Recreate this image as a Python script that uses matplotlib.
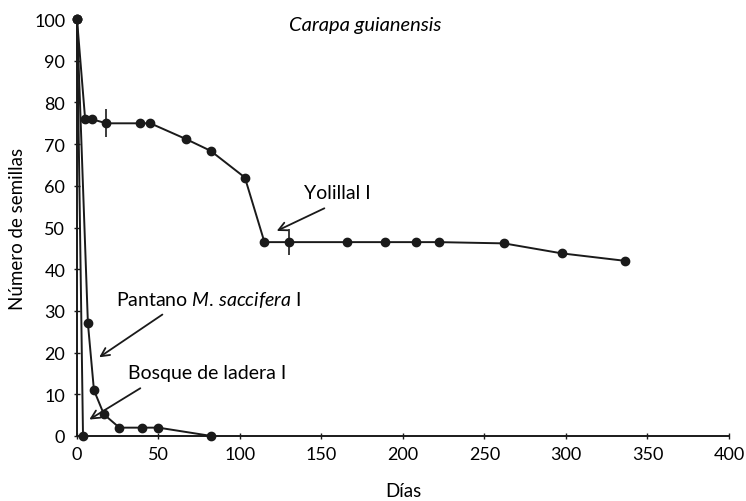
import matplotlib.pyplot as plt

# Carapa guianensis - seed survival per site
yol_dias = [0, 5, 9, 18, 38.5, 45, 67, 82, 103, 115, 130, 165.5, 189, 208, 222, 262, 297.5, 336.5]
yol_sem = [100, 76, 76, 75, 75, 75, 71.2, 68.4, 62, 46.5, 46.5, 46.5, 46.5, 46.5, 46.5, 46.2, 43.8, 42]
yol_err_dias = [18, 130]
yol_err_sem = [75, 46.5]
yol_err = [3.4, 3.2]

pan_dias = [0, 6.7, 10.4, 16.5, 26, 40, 50, 82.5]
pan_sem = [100, 27, 11, 5.2, 2, 2, 2, 0]

bos_dias = [0, 3.7]
bos_sem = [100, 0]

plt.rcParams['font.family'] = ['Lato', 'DejaVu Sans']
plt.rcParams['mathtext.fontset'] = 'custom'
plt.rcParams['mathtext.rm'] = 'Lato'
plt.rcParams['mathtext.it'] = 'Lato:italic'

fig = plt.figure(figsize=(7.46, 5.02), dpi=100)
ax = fig.add_axes([0.1032, 0.1295, 0.874, 0.8305])

ax.plot(yol_dias, yol_sem, color='#1a1a1a', lw=1.4, marker='o', ms=6, clip_on=False)
ax.errorbar(yol_err_dias, yol_err_sem, yerr=yol_err, fmt='none', ecolor='#1a1a1a', elinewidth=1.2, capsize=0)
ax.plot(pan_dias, pan_sem, color='#1a1a1a', lw=1.4, marker='o', ms=6, clip_on=False)
ax.plot(bos_dias, bos_sem, color='#1a1a1a', lw=1.4, marker='o', ms=6, clip_on=False)

arrow = dict(arrowstyle='->,head_length=0.6,head_width=0.3', color='#1a1a1a', lw=1.3)
ax.annotate('', xy=(121, 48.9), xytext=(153.3, 54.9), arrowprops=arrow)
ax.annotate('', xy=(12.2, 18.5), xytext=(53.8, 29.5), arrowprops=arrow)
ax.annotate('', xy=(6.1, 3.6), xytext=(40.3, 11.8), arrowprops=arrow)

fs = 14
ax.text(159.5, 58.5, 'Yolillal I', fontsize=fs, ha='center', va='center')
ax.text(23.8, 32.9, 'Pantano $\\it{M}$. $\\it{saccifera}$ I', fontsize=fs, ha='left', va='center')
ax.text(31.2, 15.3, 'Bosque de ladera I', fontsize=fs, ha='left', va='center')
ax.text(177, 98.8, 'Carapa guianensis', fontsize=14.5, style='italic', ha='center', va='center')

ax.set_xlim(0, 400)
ax.set_ylim(0, 100)
ax.set_xticks(range(0, 401, 50))
ax.set_yticks(range(0, 101, 10))
ax.tick_params(labelsize=13, direction='inout', length=5, width=1, color='#1a1a1a')
ax.tick_params(axis='x', pad=5)
ax.tick_params(axis='y', pad=6)
ax.spines['top'].set_visible(False)
ax.spines['right'].set_visible(False)
for s in ['left', 'bottom']:
    ax.spines[s].set_linewidth(1.4)
    ax.spines[s].set_color('#1a1a1a')

ax.set_xlabel('Días', fontsize=13.5, labelpad=14)
ax.set_ylabel('Número de semillas', fontsize=13.5, labelpad=6)

fig.savefig('out.png', dpi=100)
